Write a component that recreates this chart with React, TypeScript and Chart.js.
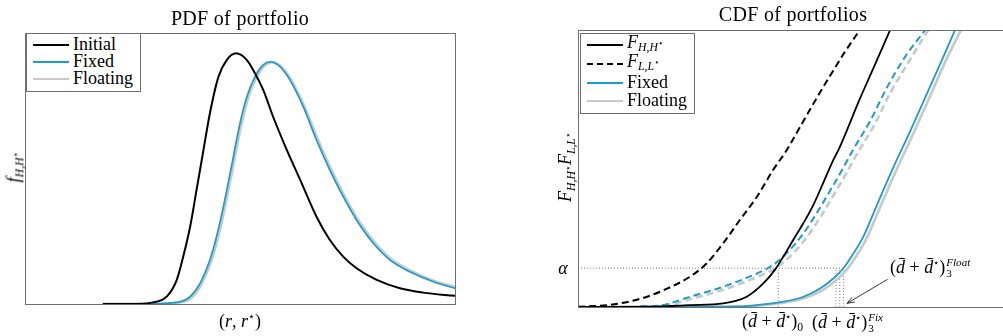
import React, { useEffect, useRef } from "react";
import { Chart, registerables } from "chart.js";
Chart.register(...registerables);

// ---------- PDF panel data ----------
const pdfInitialX = [1.81, 2.44, 2.98, 3.30, 3.53, 3.68, 3.84, 3.99, 4.15, 4.30, 4.50, 4.69, 4.91, 5.16, 5.35, 5.54, 5.77, 6.09, 6.40, 6.78, 7.09, 7.40, 7.71, 8.18, 8.72, 9.26, 10];
const pdfInitialY = [0, 0, 0.006, 0.028, 0.089, 0.175, 0.285, 0.421, 0.568, 0.704, 0.839, 0.900, 0.925, 0.900, 0.851, 0.790, 0.691, 0.568, 0.458, 0.322, 0.236, 0.175, 0.132, 0.089, 0.058, 0.042, 0.030];
const pdfFixedX = [1.81, 2.80, 3.60, 3.84, 4.07, 4.30, 4.53, 4.77, 5.00, 5.16, 5.35, 5.54, 5.70, 5.93, 6.16, 6.47, 6.78, 7.09, 7.40, 7.71, 8.10, 8.49, 8.95, 9.50, 10];
const pdfFixedY = [0, 0, 0.008, 0.027, 0.076, 0.162, 0.298, 0.482, 0.667, 0.765, 0.839, 0.882, 0.894, 0.876, 0.827, 0.728, 0.605, 0.494, 0.396, 0.310, 0.224, 0.162, 0.119, 0.082, 0.058];
const pdfFloatingX = [1.81, 2.85, 3.64, 3.88, 4.10, 4.33, 4.56, 4.80, 5.03, 5.19, 5.38, 5.57, 5.73, 5.96, 6.19, 6.50, 6.81, 7.12, 7.43, 7.74, 8.13, 8.52, 8.98, 9.52, 10];
const pdfFloatingY = [0, 0, 0.007, 0.025, 0.073, 0.158, 0.294, 0.478, 0.663, 0.762, 0.836, 0.880, 0.892, 0.875, 0.826, 0.728, 0.606, 0.496, 0.398, 0.312, 0.227, 0.165, 0.122, 0.085, 0.062];

// ---------- CDF panel data ----------
const cdfLLX = [0, 0.71, 1.49, 2.11, 2.62, 3.01, 3.40, 3.79, 4.19, 4.57, 4.89, 5.20, 5.55, 5.90, 6.25, 6.60];
const cdfLLY = [0.001, 0.007, 0.031, 0.068, 0.109, 0.157, 0.230, 0.314, 0.398, 0.495, 0.567, 0.650, 0.744, 0.834, 0.921, 1.0];
const cdfHHX = [0, 1.69, 2.62, 3.40, 3.95, 4.34, 4.61, 4.81, 5.04, 5.28, 5.51, 5.74, 5.98, 6.10, 6.60, 6.96, 7.31];
const cdfHHY = [0, 0.001, 0.007, 0.013, 0.037, 0.085, 0.134, 0.182, 0.242, 0.303, 0.368, 0.447, 0.531, 0.567, 0.751, 0.877, 1.0];
const cdfFixedLX = [1.45, 1.92, 2.62, 3.40, 4.19, 4.57, 4.96, 5.28, 5.59, 5.90, 6.21, 6.44, 6.84, 7.23, 7.66, 8.13];
const cdfFixedLY = [0.002, 0.005, 0.037, 0.073, 0.121, 0.152, 0.206, 0.266, 0.339, 0.419, 0.502, 0.567, 0.671, 0.791, 0.903, 1.0];
const cdfFloatLX = [1.50, 1.98, 2.69, 3.47, 4.26, 4.65, 5.04, 5.36, 5.67, 5.98, 6.29, 6.52, 6.92, 7.31, 7.74, 8.20];
const cdfFloatLY = [0.001, 0.004, 0.031, 0.066, 0.113, 0.143, 0.194, 0.252, 0.323, 0.402, 0.484, 0.549, 0.652, 0.772, 0.884, 1.0];
const cdfFixedHX = [1.45, 2.86, 3.79, 4.19, 4.81, 5.28, 5.67, 5.98, 6.21, 6.45, 6.68, 7.00, 7.38, 7.78, 8.17, 8.56, 8.83];
const cdfFixedHY = [0, 0.001, 0.002, 0.007, 0.019, 0.037, 0.067, 0.103, 0.139, 0.193, 0.253, 0.368, 0.502, 0.635, 0.769, 0.905, 1.0];
const cdfFloatHX = [1.52, 2.93, 3.86, 4.26, 4.88, 5.35, 5.74, 6.05, 6.28, 6.52, 6.75, 7.07, 7.45, 7.85, 8.24, 8.63, 8.97];
const cdfFloatHY = [0, 0.001, 0.002, 0.006, 0.017, 0.034, 0.062, 0.097, 0.132, 0.185, 0.245, 0.358, 0.492, 0.625, 0.759, 0.895, 1.0];

const alphaLevel = 0.14;
const quantileX = [4.69, 6.04, 6.13, 6.22];
const arrowFrom = [7.25, 0.1];
const arrowTo = [6.3, 0.013];

const BLUE = "#1b9dc9";
const GRAY = "#c8c8c8";
const BOX = "#6f6f6f";
const FONT = "'Liberation Serif', 'DejaVu Serif', serif";

const pts = (xs: number[], ys: number[]) => xs.map((x, i) => ({ x, y: ys[i] }));

const boxPlugin = {
  id: "box",
  afterDatasetsDraw(chart: any) {
    const { ctx, chartArea: a } = chart;
    ctx.save();
    ctx.strokeStyle = BOX;
    ctx.lineWidth = 1;
    ctx.strokeRect(Math.round(a.left) + 0.5, Math.round(a.top) + 0.5, Math.round(a.right - a.left), Math.round(a.bottom - a.top));
    ctx.restore();
  },
};

const arrowPlugin = {
  id: "arrow",
  afterDatasetsDraw(chart: any) {
    const { ctx, scales } = chart;
    const x1 = scales.x.getPixelForValue(arrowFrom[0]);
    const y1 = scales.y.getPixelForValue(arrowFrom[1]);
    const x2 = scales.x.getPixelForValue(arrowTo[0]);
    const y2 = scales.y.getPixelForValue(arrowTo[1]);
    const ang = Math.atan2(y2 - y1, x2 - x1);
    const L = 8;
    ctx.save();
    ctx.strokeStyle = "#222";
    ctx.lineWidth = 0.9;
    ctx.beginPath();
    ctx.moveTo(x1, y1);
    ctx.lineTo(x2, y2);
    ctx.moveTo(x2 - L * Math.cos(ang - 0.35), y2 - L * Math.sin(ang - 0.35));
    ctx.lineTo(x2, y2);
    ctx.lineTo(x2 - L * Math.cos(ang + 0.35), y2 - L * Math.sin(ang + 0.35));
    ctx.stroke();
    ctx.restore();
  },
};

const line = (data: any, color: string, width: number, order: number, dash?: number[]) => ({
  data,
  borderColor: color,
  borderWidth: width,
  borderDash: dash || [],
  pointRadius: 0,
  fill: false,
  cubicInterpolationMode: "monotone" as const,
  order,
});

function PdfChart() {
  const ref = useRef<HTMLCanvasElement>(null);
  useEffect(() => {
    const chart = new Chart(ref.current!, {
      type: "line",
      data: {
        datasets: [
          line(pts(pdfInitialX, pdfInitialY), "#000", 2, 1),
          line(pts(pdfFixedX, pdfFixedY), BLUE, 1.7, 2),
          line(pts(pdfFloatingX, pdfFloatingY), GRAY, 2.8, 3),
        ],
      },
      options: {
        animation: false,
        responsive: false,
        layout: { padding: { left: 25, top: 33, right: 15, bottom: 32 } },
        scales: {
          x: { type: "linear", min: 0, max: 10, display: false },
          y: { type: "linear", min: 0, max: 1, display: false },
        },
        plugins: { legend: { display: false }, tooltip: { enabled: false } },
      },
      plugins: [boxPlugin],
    } as any);
    return () => chart.destroy();
  }, []);
  return <canvas ref={ref} width={470} height={336} style={{ position: "absolute", left: 0, top: 0 }} />;
}

function CdfChart() {
  const ref = useRef<HTMLCanvasElement>(null);
  useEffect(() => {
    const guide = (d: any) => line(d, "#7a7a7a", 1, 20, [1, 2]);
    const chart = new Chart(ref.current!, {
      type: "line",
      data: {
        datasets: [
          line(pts(cdfHHX, cdfHHY), "#000", 1.8, 1),
          line(pts(cdfLLX, cdfLLY), "#000", 2, 2, [7, 4]),
          line(pts(cdfFixedHX, cdfFixedHY), BLUE, 1.8, 3),
          line(pts(cdfFixedLX, cdfFixedLY), BLUE, 2, 4, [7, 4]),
          line(pts(cdfFloatHX, cdfFloatHY), GRAY, 2.6, 5),
          line(pts(cdfFloatLX, cdfFloatLY), GRAY, 2.6, 6, [7, 4]),
          guide([{ x: 0, y: alphaLevel }, { x: quantileX[quantileX.length - 1], y: alphaLevel }]),
          ...quantileX.map((q) => guide([{ x: q, y: 0 }, { x: q, y: alphaLevel }])),
        ],
      },
      options: {
        animation: false,
        responsive: false,
        layout: { padding: { left: 38, top: 30, right: 5, bottom: 29 } },
        scales: {
          x: { type: "linear", min: 0, max: 10, display: false },
          y: { type: "linear", min: 0, max: 1, display: false },
        },
        plugins: { legend: { display: false }, tooltip: { enabled: false } },
      },
      plugins: [boxPlugin, arrowPlugin],
    } as any);
    return () => chart.destroy();
  }, []);
  return <canvas ref={ref} width={470} height={336} style={{ position: "absolute", left: 540, top: 0 }} />;
}

const T = ({ x, y, size = 18, rotate, left, children, spacing }: any) => (
  <div
    style={{
      position: "absolute",
      left: x,
      top: y,
      transform: `translate(${left ? "0" : "-50%"},-50%)${rotate ? " rotate(-90deg)" : ""}`,
      fontSize: size,
      whiteSpace: "nowrap",
      lineHeight: 1,
      letterSpacing: spacing || 0,
    }}
  >
    {children}
  </div>
);

const Stack = ({ sup, sub }: any) => (
  <span
    style={{
      display: "inline-flex",
      flexDirection: "column",
      fontSize: "0.62em",
      lineHeight: 0.95,
      verticalAlign: "0.62em",
      marginLeft: 1,
    }}
  >
    <i>{sup}</i>
    <span>{sub}</span>
  </span>
);

const Sub = ({ children }: any) => <sub style={{ fontSize: "0.65em", verticalAlign: "-0.3em" }}>{children}</sub>;

const dd = (
  <>
    (<i>d&#772;</i> + <i>d&#772;</i>
    <sup style={{ fontSize: "0.55em" }}>⋆</sup>)
  </>
);

const LegendRow = ({ y, color, width, dash, children }: any) => (
  <>
    <div
      style={{
        position: "absolute",
        left: 6,
        top: y - width / 2,
        width: 36,
        height: 0,
        borderTop: `${width}px ${dash ? "dashed" : "solid"} ${color}`,
      }}
    />
    <div style={{ position: "absolute", left: 46, top: y, transform: "translateY(-55%)", fontSize: 18, lineHeight: 1, whiteSpace: "nowrap" }}>
      {children}
    </div>
  </>
);

export default function App() {
  return (
    <div
      style={{
        position: "fixed",
        left: 0,
        top: 0,
        width: 1003,
        height: 336,
        overflow: "hidden",
        background: "#fff",
        fontFamily: FONT,
        color: "#000",
      }}
    >
      <PdfChart />
      <CdfChart />

      {/* Left panel text */}
      <T x={240} y={18} size={20} spacing={0.3}>PDF of portfolio</T>
      <T x={240} y={320} size={18}>
        (<i>r</i>, <i>r</i><sup style={{ fontSize: "0.6em" }}>⋆</sup>)
      </T>
      <T x={15} y={167} size={18} rotate>
        <i>f</i>
        <Sub>
          <i>H</i>,<i>H</i>
          <sup style={{ fontSize: "0.8em" }}>⋆</sup>
        </Sub>
      </T>
      <div style={{ position: "absolute", left: 26, top: 33, width: 113, height: 57, border: `1px solid ${BOX}`, background: "#fff" }}>
        <LegendRow y={10.5} color="#000" width={2}>Initial</LegendRow>
        <LegendRow y={27.5} color={BLUE} width={2}>Fixed</LegendRow>
        <LegendRow y={45} color={GRAY} width={2}>Floating</LegendRow>
      </div>

      {/* Right panel text */}
      <T x={793} y={14} size={20} spacing={0.3}>CDF of portfolios</T>
      <T x={567} y={167} size={18} rotate>
        <i>F</i>
        <Sub>
          <i>H</i>,<i>H</i>
          <sup style={{ fontSize: "0.8em" }}>⋆</sup>
        </Sub>
        <i>F</i>
        <Sub>
          <i>L</i>,<i>L</i>
          <sup style={{ fontSize: "0.8em" }}>⋆</sup>
        </Sub>
      </T>
      <T x={563} y={268} size={18}>
        <i>α</i>
      </T>
      <T x={742} y={323} size={18} left>
        {dd}
        <Sub>0</Sub>
      </T>
      <T x={812} y={323} size={18} left>
        {dd}
        <Stack sup="Fix" sub="3" />
      </T>
      <T x={890} y={268} size={18} left>
        {dd}
        <Stack sup="Float" sub="3" />
      </T>
      <div style={{ position: "absolute", left: 580, top: 33, width: 113, height: 79, border: `1px solid ${BOX}`, background: "#fff" }}>
        <LegendRow y={10.5} color="#000" width={2}>
          <i>F</i>
          <Sub>
            <i>H</i>,<i>H</i>
            <sup style={{ fontSize: "0.8em" }}>⋆</sup>
          </Sub>
        </LegendRow>
        <LegendRow y={29.5} color="#000" width={2} dash>
          <i>F</i>
          <Sub>
            <i>L</i>,<i>L</i>
            <sup style={{ fontSize: "0.8em" }}>⋆</sup>
          </Sub>
        </LegendRow>
        <LegendRow y={49} color={BLUE} width={2}>Fixed</LegendRow>
        <LegendRow y={67} color={GRAY} width={2}>Floating</LegendRow>
      </div>
    </div>
  );
}
